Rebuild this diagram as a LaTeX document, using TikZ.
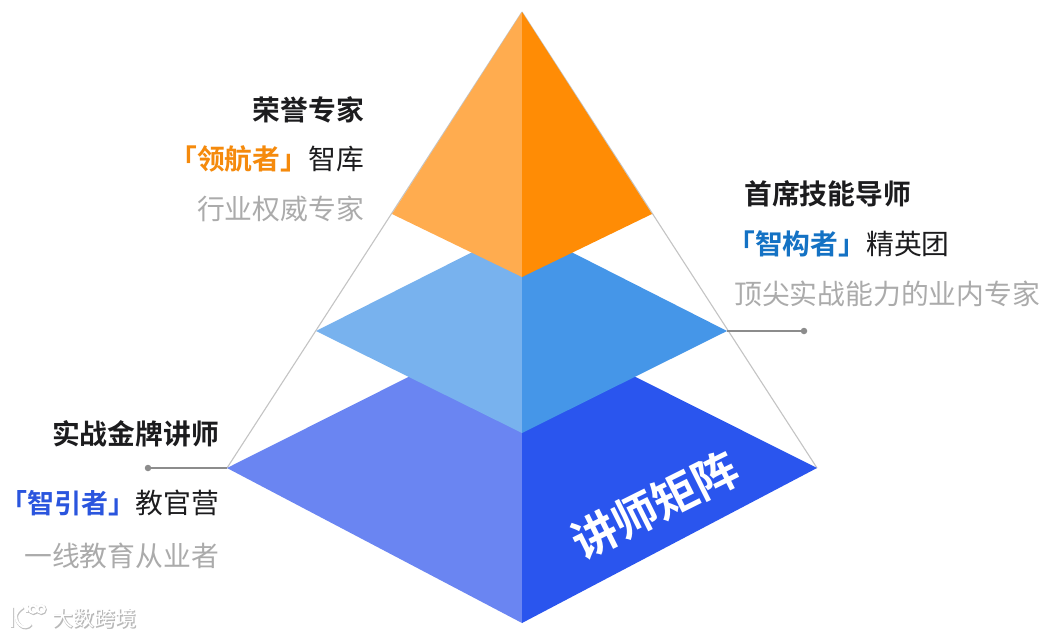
\documentclass[tikz,border=0pt]{standalone}
\usepackage{fontspec}
\setmainfont{Noto Sans CJK SC}
\newfontfamily\cjkb{Noto Sans CJK SC Bold}
\definecolor{ol}{HTML}{FFAC4F}
\definecolor{or}{HTML}{FF8C05}
\definecolor{ml}{HTML}{78B2EE}
\definecolor{mr}{HTML}{4596E8}
\definecolor{bl}{HTML}{6A85F2}
\definecolor{br}{HTML}{2A55EE}
\definecolor{ink}{HTML}{1C1C1E}
\definecolor{mute}{HTML}{ABABAB}
\definecolor{tagO}{HTML}{F58A0C}
\definecolor{tagM}{HTML}{1472C4}
\definecolor{tagB}{HTML}{2A55DE}
\definecolor{edge}{HTML}{C4C4C4}
\definecolor{lead}{HTML}{8C8C8C}
\newcommand{\logostrokes}{%
  (12,607) -- (12,627)
  (23,607) .. controls (14,613) and (14,619) .. (20,625) .. controls (23,628) and (28,628) .. (31,624)
  (27,605) -- (27,612)
  (33,609) circle[radius=3.7]
  (41,609) circle[radius=3.7]}
\tikzset{
  lbl/.style={inner sep=0pt,font=\fontsize{27.8}{28}\selectfont},
  hd/.style={lbl,text=ink,font=\fontsize{27.8}{28}\selectfont\cjkb},
  note/.style={lbl,text=mute},
  guide/.style={draw=edge,line width=1.1pt},
  leadline/.style={draw=lead,line width=1.2pt},
  pin/.style={circle,fill=lead,inner sep=0pt,minimum size=6.5pt},
  face/.style={draw=none},
}
\begin{document}
\begin{tikzpicture}[x=1pt,y=-1pt]
\useasboundingbox (0,0) rectangle (1051,637);
\fill[white] (0,0) rectangle (1051,637);
\coordinate (apex) at (522,12);
\coordinate (bL) at (227,468);
\coordinate (bR) at (817,468);
\coordinate (bF) at (522,623);
\coordinate (bB) at (522,320);
\coordinate (mL) at (316,331);
\coordinate (mR) at (727,331);
\coordinate (mF) at (522,433);
\coordinate (mB) at (522,227);
\coordinate (oL) at (392,214);
\coordinate (oR) at (652,214);
\coordinate (oF) at (522,277);
\draw[guide] (apex) -- (bL);
\draw[guide] (apex) -- (bR);
\fill[bl,face] (bB) -- (bL) -- (bF) -- cycle;
\fill[br,face] (bB) -- (bR) -- (bF) -- cycle;
\fill[ml,face] (mB) -- (mL) -- (mF) -- cycle;
\fill[mr,face] (mB) -- (mR) -- (mF) -- cycle;
\fill[ol,face] (apex) -- (oL) -- (oF) -- cycle;
\fill[or,face] (apex) -- (oR) -- (oF) -- cycle;
\node[pin] (pinL) at (148,468) {};
\node[pin] (pinR) at (804,331) {};
\draw[leadline] (pinL) -- (bL);
\draw[leadline] (pinR) -- (mR);
\node[hd,anchor=east] (t1) at (364,110) {荣誉专家};
\node[lbl,anchor=east,text=ink] (t2) at (364,159) {{\cjkb\color{tagO}「领航者」}智库};
\node[note,anchor=east] (t3) at (364,209) {行业权威专家};
\node[hd,anchor=west] (t4) at (744,194) {首席技能导师};
\node[lbl,anchor=west,text=ink] (t5) at (727,244) {{\cjkb\color{tagM}「智构者」}精英团};
\node[note,anchor=west] (t6) at (734,294) {顶尖实战能力的业内专家};
\node[hd,anchor=east] (t7) at (219,434) {实战金牌讲师};
\node[lbl,anchor=east,text=ink] (t8) at (219,503) {{\fontsize{27}{28}\selectfont\cjkb\color{tagB}「智引者」}教官营};
\node[note,anchor=east] (t9) at (219,556) {一线教育从业者};
\node[inner sep=0pt,text=white,rotate=26.5,font=\fontsize{45}{45}\selectfont\cjkb] (title) at (655,505) {讲师矩阵};
\node[inner sep=0pt,text=black!28,font=\fontsize{21}{21}\selectfont\cjkb] (wmS) at (95,619) {大数跨境};
\node[inner sep=0pt,text=white,font=\fontsize{21}{21}\selectfont] (wm) at (94.5,618) {大数跨境};
\draw[black!25,line width=3pt,xshift=0.6pt,yshift=-0.8pt] \logostrokes;
\draw[white,line width=2.2pt] \logostrokes;
\end{tikzpicture}
\end{document}
